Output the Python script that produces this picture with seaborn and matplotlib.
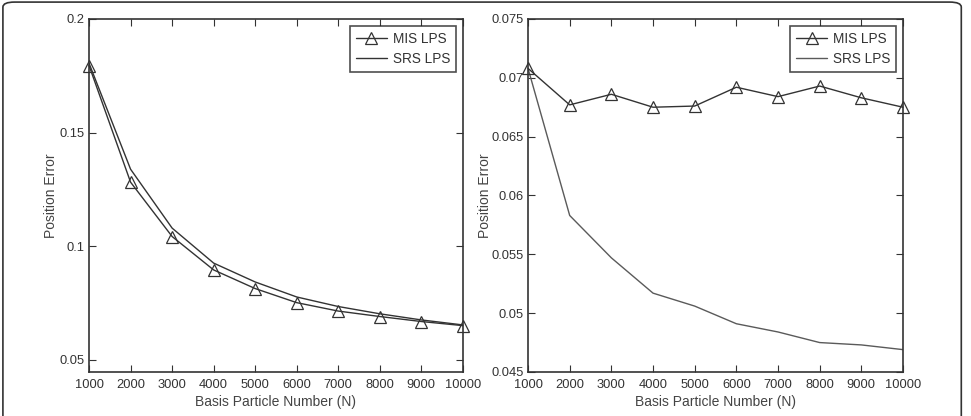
import numpy as np
import pandas as pd
import matplotlib
matplotlib.use("Agg")
import matplotlib.pyplot as plt
from matplotlib.patches import FancyBboxPatch
import seaborn as sns

# basis particle numbers (x axis)
particles = [1000, 2000, 3000, 4000, 5000, 6000, 7000, 8000, 9000, 10000]

# left panel
left_mis = [0.1795, 0.1282, 0.1043, 0.0896, 0.0814, 0.0752, 0.0715, 0.0691, 0.0669, 0.0651]
left_srs = [0.1805, 0.1339, 0.1080, 0.0926, 0.0843, 0.0777, 0.0735, 0.0703, 0.0676, 0.0654]

# right panel
right_mis = [0.0708, 0.0677, 0.0686, 0.0675, 0.0676, 0.0692, 0.0684, 0.0693, 0.0683, 0.0675]
right_srs = [0.0708, 0.0583, 0.0547, 0.0517, 0.0506, 0.0491, 0.0484, 0.0475, 0.0473, 0.0469]

sns.set_style("white")
plt.rcParams["font.family"] = ["Liberation Sans", "DejaVu Sans"]
plt.rcParams["xtick.direction"] = "in"
plt.rcParams["ytick.direction"] = "in"

fig = plt.figure(figsize=(9.71, 4.16), dpi=100)

# rounded frame around the whole figure
frame = FancyBboxPatch((0.003, -0.05), 0.987, 1.045, boxstyle="round,pad=0,rounding_size=0.012",
                       transform=fig.transFigure, fill=False, edgecolor="#333333", linewidth=1.2)
fig.patches.append(frame)

ax1 = fig.add_axes([0.0917, 0.1058, 0.385, 0.8486])
ax2 = fig.add_axes([0.5438, 0.1058, 0.3862, 0.8486])


def draw_panel(ax, mis, srs, srs_color, ylim, yticks, yticklabels, ylab_x):
    df = pd.DataFrame({"N": particles, "MIS": mis, "SRS": srs})
    sns.lineplot(data=df, x="N", y="MIS", ax=ax, color="#333333", linewidth=1.0,
                 marker="^", markersize=8, markerfacecolor="none",
                 markeredgecolor="#333333", markeredgewidth=0.9, label="MIS LPS",
                 clip_on=False, zorder=3)
    sns.lineplot(data=df, x="N", y="SRS", ax=ax, color=srs_color, linewidth=1.0,
                 label="SRS LPS")
    ax.set_xlim(1000, 10000)
    ax.set_ylim(*ylim)
    ax.set_xticks(particles)
    ax.set_xticklabels([str(p) for p in particles])
    ax.set_yticks(yticks)
    ax.set_yticklabels(yticklabels)
    ax.tick_params(axis="both", labelsize=9.3, colors="#333333", length=5, width=0.8,
                   top=True, right=True, bottom=True, left=True)
    ax.tick_params(axis="x", pad=5)
    ax.tick_params(axis="y", pad=3)
    for s in ax.spines.values():
        s.set_color("#333333")
        s.set_linewidth(1.2)
    ax.set_xlabel("Basis Particle Number (N)", fontsize=10, color="#444444", labelpad=3)
    ax.set_ylabel("Position Error", fontsize=10, color="#444444")
    ax.yaxis.set_label_coords(ylab_x, 0.5)
    leg = ax.legend(loc="upper right", fontsize=9.8, frameon=True, fancybox=False,
                    borderaxespad=0.5, handlelength=2.3, handletextpad=0.4,
                    labelspacing=0.45, borderpad=0.45)
    leg.get_frame().set_edgecolor("#222222")
    leg.get_frame().set_linewidth(1.2)
    for t in leg.get_texts():
        t.set_color("#333333")


draw_panel(ax1, left_mis, left_srs, "#333333", (0.0447, 0.2),
           [0.05, 0.1, 0.15, 0.2], ["0.05", "0.1", "0.15", "0.2"], -0.083)
draw_panel(ax2, right_mis, right_srs, "#5a5a5a", (0.045, 0.075),
           [0.045, 0.05, 0.055, 0.06, 0.065, 0.07, 0.075],
           ["0.045", "0.05", "0.055", "0.06", "0.065", "0.07", "0.075"], -0.096)

fig.savefig("out.png", dpi=100)
